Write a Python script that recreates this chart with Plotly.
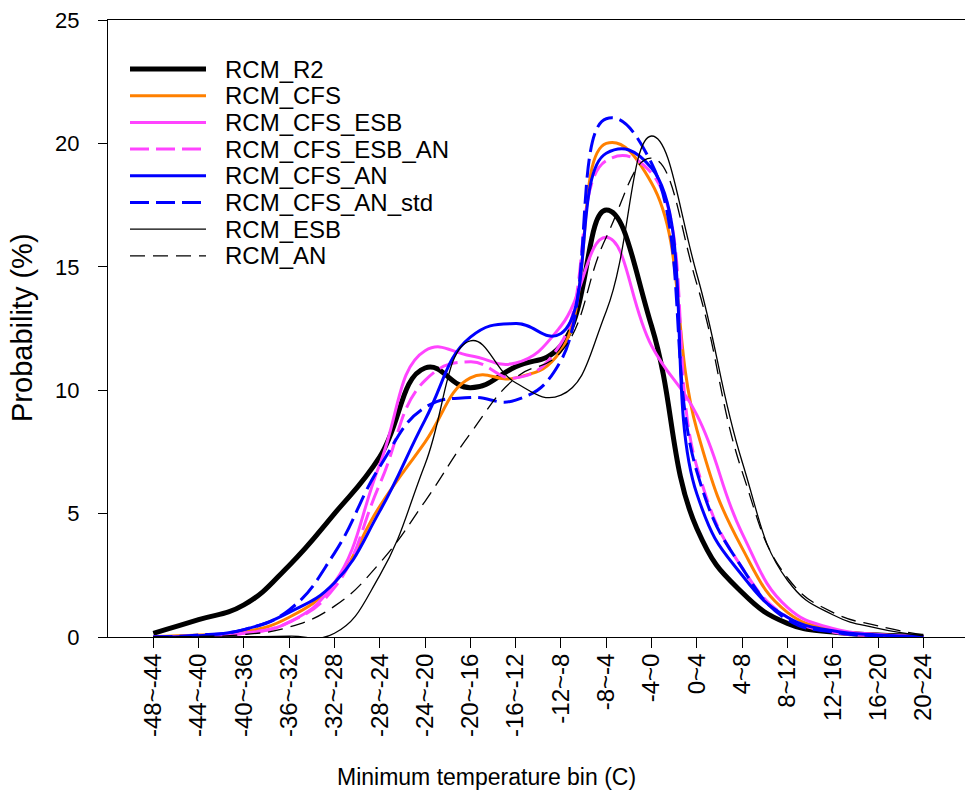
import plotly.graph_objects as go

# Minimum temperature bins (C)
bins = ["-48~-44", "-44~-40", "-40~-36", "-36~-32", "-32~-28", "-28~-24",
        "-24~-20", "-20~-16", "-16~-12", "-12~-8", "-8~-4", "-4~0",
        "0~4", "4~8", "8~12", "12~16", "16~20", "20~24"]

# Probability (%) per bin for each simulation
rcm_r2 = [0.15, 0.7, 1.3, 2.9, 5.0, 7.3, 10.9, 10.1, 10.95, 11.8, 17.3, 12.6,
          4.4, 1.8, 0.55, 0.2, 0.08, 0.03]
rcm_cfs = [0.02, 0.08, 0.2, 0.8, 2.2, 5.3, 7.9, 10.5, 10.5, 11.6, 20.0, 18.4,
           8.4, 3.6, 1.0, 0.3, 0.1, 0.02]
rcm_cfs_esb = [0.0, 0.03, 0.15, 0.6, 2.2, 7.0, 11.6, 11.4, 11.1, 12.6, 16.2, 11.8,
               9.0, 4.2, 1.2, 0.35, 0.1, 0.02]
rcm_cfs_esb_an = [0.0, 0.05, 0.15, 0.6, 2.0, 6.2, 10.4, 11.15, 10.5, 11.9, 19.3, 18.8,
                  6.9, 2.8, 0.8, 0.2, 0.05, 0.01]
rcm_cfs_an = [0.0, 0.05, 0.3, 1.0, 2.2, 5.1, 8.8, 12.15, 12.7, 12.3, 19.6, 19.0,
              5.8, 2.5, 0.8, 0.25, 0.08, 0.02]
rcm_cfs_an_std = [0.0, 0.08, 0.3, 1.1, 3.4, 6.9, 9.3, 9.7, 9.6, 11.2, 21.0, 19.2,
                  6.7, 2.8, 0.7, 0.2, 0.05, 0.01]
rcm_esb = [0.0, 0.0, 0.01, 0.03, 0.15, 2.5, 7.0, 12.0, 10.3, 9.8, 13.2, 20.3,
           14.7, 7.1, 2.3, 0.9, 0.35, 0.05]
rcm_an = [0.0, 0.02, 0.1, 0.4, 1.25, 3.0, 5.5, 8.25, 10.5, 11.55, 16.2, 19.4,
          14.3, 6.7, 2.4, 1.0, 0.45, 0.08]

series_names = ["RCM_R2", "RCM_CFS", "RCM_CFS_ESB", "RCM_CFS_ESB_AN",
                "RCM_CFS_AN", "RCM_CFS_AN_std", "RCM_ESB", "RCM_AN"]
series_values = [rcm_r2, rcm_cfs, rcm_cfs_esb, rcm_cfs_esb_an,
                 rcm_cfs_an, rcm_cfs_an_std, rcm_esb, rcm_an]

# Line styles: (colour, width, dash)
ORANGE = "#FF8000"
MAGENTA = "#FF44FF"
BLUE = "#0000FF"
styles = [
    ("black", 5, "solid"),
    (ORANGE, 3, "solid"),
    (MAGENTA, 3, "solid"),
    (MAGENTA, 3, "19px,7px"),
    (BLUE, 3, "solid"),
    (BLUE, 3, "19px,7px"),
    ("black", 1.3, "solid"),
    ("black", 1.3, "15px,8px"),
]

FONT = "Arial, Liberation Sans, sans-serif"
W, H = 965, 802
ML, MR, MT, MB = 108, 0, 20, 165
PW, PH = W - ML - MR, H - MT - MB


def px_to_paper(px, py):
    return (px - ML) / PW, (H - MB - py) / PH


x_idx = list(range(len(bins)))

fig = go.Figure()
for name, vals, (col, wid, dash) in zip(series_names, series_values, styles):
    fig.add_trace(go.Scatter(
        x=x_idx, y=vals, name=name, mode="lines",
        line=dict(color=col, width=wid, dash=dash, shape="spline", smoothing=1.3),
        showlegend=False, hoverinfo="x+y+name",
    ))

# Hand-drawn legend: long line samples with labels
shapes = []
annotations = []
row0, row_step = 69, 26.7
for i, (name, (col, wid, dash)) in enumerate(zip(series_names, styles)):
    yy = row0 + i * row_step
    x0, y0 = px_to_paper(130, yy)
    x1, _ = px_to_paper(206, yy)
    shapes.append(dict(type="line", xref="paper", yref="paper",
                       x0=x0, y0=y0, x1=x1, y1=y0,
                       line=dict(color=col, width=wid, dash=dash)))
    tx, ty = px_to_paper(223, yy)
    annotations.append(dict(xref="paper", yref="paper", x=tx, y=ty,
                            xanchor="left", yanchor="middle", showarrow=False,
                            text=name, font=dict(family=FONT, size=24, color="black")))

# Axis titles
tx, ty = px_to_paper(22, 328)
annotations.append(dict(xref="paper", yref="paper", x=tx, y=ty, textangle=-90,
                        xanchor="center", yanchor="middle", showarrow=False,
                        text="Probability (%)",
                        font=dict(family=FONT, size=29, color="black")))
tx, ty = px_to_paper(486, 777)
annotations.append(dict(xref="paper", yref="paper", x=tx, y=ty,
                        xanchor="center", yanchor="middle", showarrow=False,
                        text="Minimum temperature bin (C)",
                        font=dict(family=FONT, size=23, color="black")))

fig.update_layout(
    width=W, height=H,
    margin=dict(l=ML, r=MR, t=MT, b=MB, pad=0),
    paper_bgcolor="white", plot_bgcolor="white",
    font=dict(family=FONT, color="black"),
    shapes=shapes, annotations=annotations,
    showlegend=False,
)
fig.update_xaxes(
    range=[-1, 17.92], tickmode="array", tickvals=x_idx, ticktext=bins,
    tickangle=-90, ticks="outside", ticklen=10, tickwidth=1, tickcolor="black",
    ticklabelstandoff=-4,
    showline=True, linecolor="black", linewidth=1, mirror=True,
    showgrid=False, zeroline=False,
    tickfont=dict(family=FONT, size=24, color="black"),
)
fig.update_yaxes(
    range=[0, 25], tickmode="array", tickvals=[0, 5, 10, 15, 20, 25],
    ticks="outside", ticklen=9, tickwidth=1, tickcolor="black",
    ticklabelstandoff=14,
    showline=True, linecolor="black", linewidth=1,
    showgrid=False, zeroline=False,
    tickfont=dict(family=FONT, size=22, color="black"),
)

fig.write_html("out.html")
